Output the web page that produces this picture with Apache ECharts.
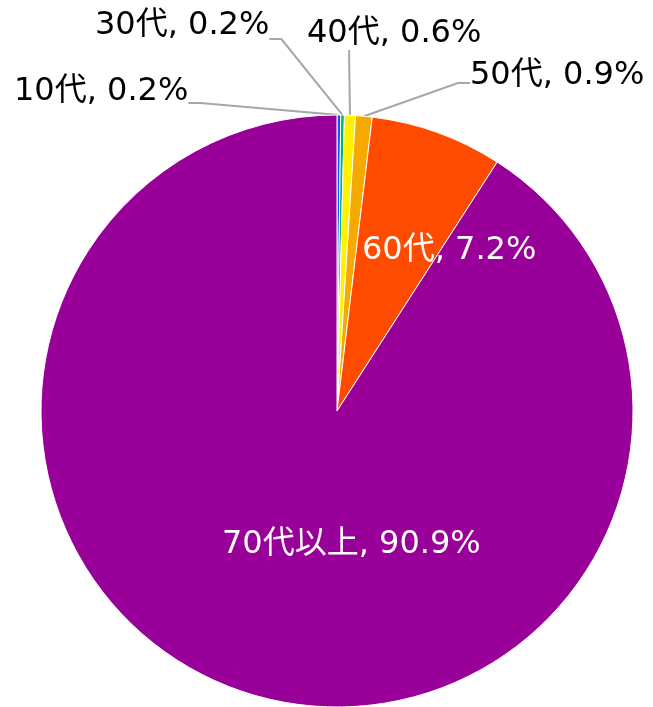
<!DOCTYPE html>
<html>
<head>
<meta charset="utf-8">
<script src="https://cdn.jsdelivr.net/npm/echarts@6/dist/echarts.min.js"></script>
<style>
html, body { margin: 0; padding: 0; background: #fff; }
#pieChart { width: 653px; height: 707px; }
</style>
</head>
<body>
<div id="pieChart"></div>
<script>
// 年代別の割合（%）
const categories = ['10代', '30代', '40代', '50代', '60代', '70代以上']
const values = [0.2, 0.2, 0.6, 0.9, 7.2, 90.9]
const colors = ['#005AFF', '#03AF7A', '#FFF100', '#F6AA00', '#FF4B00', '#990099']

// ラベル位置（padding で引き出し線の付く位置を調整）
const labelPos = [
  { x: 14, y: 76, padding: [0, 0, 22, 0] },
  { x: 95, y: 10, padding: [0, 0, 26, 0] },
  { x: 217, y: 18, padding: [0, 0, 0, 90] },
  { x: 470, y: 60, padding: [0, 0, 14, 0] },
  { x: 362, y: 235, padding: 0 },
  { x: 222, y: 529, padding: 0 }
]

const chart = echarts.init(document.getElementById('pieChart'))
const fontFamily = '"DejaVu Sans", "Noto Sans CJK JP", sans-serif'

chart.setOption({
  animation: false,
  color: colors,
  series: [
    {
      type: 'pie',
      center: [337, 411],
      radius: 296,
      startAngle: 90,
      clockwise: true,
      avoidLabelOverlap: false,
      itemStyle: { borderColor: '#fff', borderWidth: 1 },
      label: {
        show: true,
        formatter: p => p.name + ', ' + p.value.toFixed(1) + '%',
        fontFamily: fontFamily,
        fontSize: 32,
        color: '#000'
      },
      labelLine: {
        show: true,
        length: 10,
        length2: 12,
        lineStyle: { color: '#A6A6A6', width: 2 }
      },
      labelLayout: function(params) {
        const p = labelPos[params.dataIndex]
        return { x: p.x, y: p.y, align: 'left', verticalAlign: 'top' }
      },
      data: categories.map((name, i) => {
        const d = { name: name, value: values[i] }
        d.label = { padding: labelPos[i].padding, backgroundColor: 'rgba(255,255,255,0)' }
        if (i >= 4) {
          d.label.position = 'inside'
          d.label.color = '#fff'
          d.labelLine = { show: false }
        }
        return d
      })
    }
  ]
})
</script>
</body>
</html>
